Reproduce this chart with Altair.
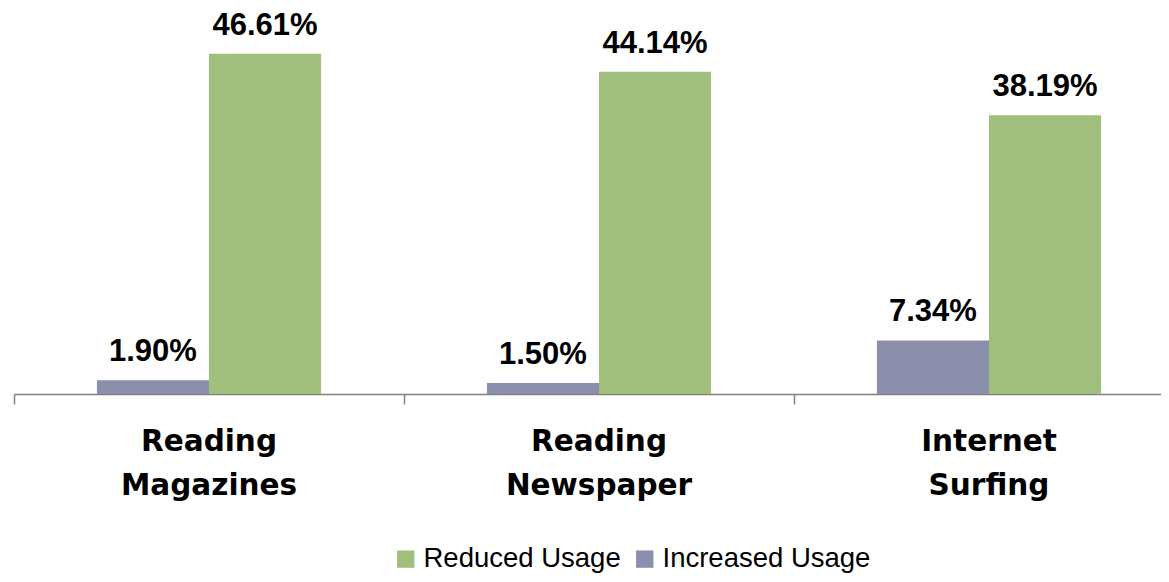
import altair as alt
import pandas as pd

categories = ["Reading Magazines", "Reading Newspaper", "Internet Surfing"]
reduced = [46.61, 44.14, 38.19]
increased = [1.90, 1.50, 7.34]
series = ["Reduced Usage", "Increased Usage"]
colors = ["#A0BF7C", "#8C8FAC"]

rows = []
for c, r, i in zip(categories, reduced, increased):
    rows.append({"category": c, "series": "Increased Usage", "value": i})
    rows.append({"category": c, "series": "Reduced Usage", "value": r})
df = pd.DataFrame(rows)

FONT = "Liberation Sans"

x = alt.X(
    "category:N",
    sort=categories,
    scale=alt.Scale(paddingInner=0, paddingOuter=0, range=[0, 1170]),
    axis=alt.Axis(
        title=None,
        bandPosition=0,
        labelAngle=0,
        labelExpr="split(datum.label, ' ')",
        labelFont="DejaVu Sans",
        labelFontSize=29.5,
        labelFontWeight="bold",
        labelColor="black",
        labelLineHeight=44,
        labelPadding=23,
        labelLimit=400,
        tickSize=10,
        tickColor="#808080",
        domainColor="#808080",
        tickWidth=1.5,
        domainWidth=1.5,
        grid=False,
    ),
)
xo = alt.XOffset(
    "series:N",
    sort=["Increased Usage", "Reduced Usage"],
    scale=alt.Scale(domain=["Increased Usage", "Reduced Usage"], paddingInner=0, paddingOuter=0.74),
)
y = alt.Y("value:Q", scale=alt.Scale(domain=[0, 52.88], nice=False, zero=True), axis=None)

base = alt.Chart(df).encode(x=x, xOffset=xo, y=y)

bars = base.mark_bar(strokeWidth=0).encode(
    color=alt.Color(
        "series:N",
        scale=alt.Scale(domain=series, range=colors),
        legend=alt.Legend(
            title=None,
            orient="none",
            legendX=378,
            legendY=537,
            direction="horizontal",
            symbolType="square",
            symbolSize=300,
            symbolStrokeWidth=0,
            symbolOpacity=1,
            labelFont=FONT,
            labelFontSize=27.5,
            labelColor="black",
            labelOffset=4,
            labelLimit=400,
            columnPadding=10,
        ),
    )
)

texts = base.transform_calculate(
    label="format(datum.value, '.2f') + '%'"
).mark_text(
    font=FONT, fontSize=31, fontWeight="bold", color="black", baseline="alphabetic", dy=-19
).encode(text="label:N")

chart = (
    alt.layer(bars, texts)
    .properties(
        width=1147,
        height=386,
        autosize=alt.AutoSizeParams(type="none"),
        padding={"left": 6, "top": 0, "right": 0, "bottom": 180},
    )
    .configure_view(stroke=None)
)

chart.save("out.html", embed_options={"renderer": "svg", "actions": False})
